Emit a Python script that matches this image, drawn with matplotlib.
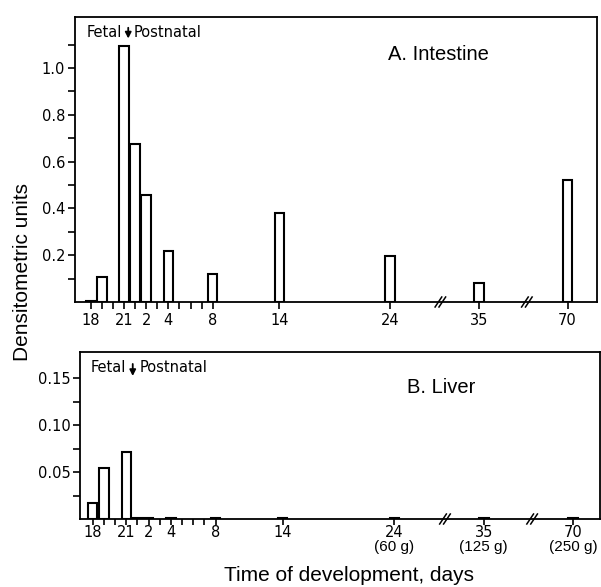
import matplotlib
matplotlib.use("Agg")
import matplotlib.pyplot as plt
import matplotlib.transforms as mtransforms
from matplotlib.ticker import FixedLocator

# day positions on a linear scale: fetal 18..21 -> -3..0, postnatal days 1..24 as is,
# 35 and 70 sit after axis breaks
tick_pos = [-3, -2, -1, 0, 1, 2, 3, 4, 5, 6, 7, 8, 14, 24, 32, 40]
tick_lab = ["18", "", "", "21", "", "2", "", "4", "", "", "", "8", "14", "24", "35", "70"]
gram_pos = [24, 32, 40]
gram_lab = ["(60 g)", "(125 g)", "(250 g)"]
break_pos = [28.5, 36.3]

intestine_x = [-3, -2, 0, 1, 2, 4, 8, 14, 24, 32, 40]
intestine_y = [0.005, 0.105, 1.095, 0.675, 0.457, 0.218, 0.12, 0.382, 0.198, 0.082, 0.521]

liver_x = [-3, -2, 0, 1, 2, 4, 8, 14, 24, 32, 40]
liver_y = [0.0167, 0.0546, 0.0716, 0.0008, 0.0008, 0.001, 0.001, 0.001, 0.001, 0.001, 0.001]

tickfont = "DejaVu Sans"
labfont = "Liberation Sans"

W, H = 601, 587
fig = plt.figure(figsize=(W / 100, H / 100), dpi=100)

def px_axes(l, t, r, b):
    return fig.add_axes([l / W, 1 - b / H, (r - l) / W, (b - t) / H])

ax1 = px_axes(75, 17, 597, 302)
ax2 = px_axes(80, 352, 600, 519)


def style(ax, xlim, ylim, ymaj, ymajlab, ymin, xpad):
    ax.set_xlim(*xlim)
    ax.set_ylim(*ylim)
    for s in ax.spines.values():
        s.set_linewidth(1.3)
    ax.set_xticks(tick_pos)
    ax.set_xticklabels(tick_lab, fontfamily=tickfont, fontsize=10.5)
    ax.set_yticks(ymaj)
    ax.set_yticklabels(ymajlab, fontfamily=tickfont, fontsize=10.5)
    ax.yaxis.set_minor_locator(FixedLocator(ymin))
    ax.tick_params(axis="both", which="both", direction="out", length=5, width=1.2)
    ax.tick_params(axis="x", pad=xpad)
    ax.tick_params(axis="y", pad=2)
    tr = mtransforms.blended_transform_factory(ax.transData, ax.transAxes)
    hb = ax.bbox.height
    dy = 5 / hb
    for bx in break_pos:
        for off in (-0.15, 0.2):
            ax.plot([bx + off - 0.3, bx + off + 0.3], [-dy, dy], color="black",
                    lw=1.1, transform=tr, clip_on=False)
    return tr


tr1 = style(ax1, (-4.42, 42.65), (0, 1.218),
            [0.2, 0.4, 0.6, 0.8, 1.0], ["0.2", "0.4", "0.6", "0.8", "1.0"],
            [0.1, 0.3, 0.5, 0.7, 0.9, 1.1], 3)
tr2 = style(ax2, (-4.14, 42.4), (0, 0.1777),
            [0.05, 0.10, 0.15], ["0.05", "0.10", "0.15"],
            [0.025, 0.075, 0.125], 0.5)
ax2.tick_params(axis="x", length=4)

ax1.bar(intestine_x, intestine_y, width=0.85, color="white", edgecolor="black", linewidth=1.5)
ax2.bar(liver_x, liver_y, width=0.85, color="white", edgecolor="black", linewidth=1.5)

# Fetal / Postnatal markers
def birth(ax, tr, xa, ytxt, ytop, ybot, xl, xr):
    ax.annotate("", xy=(xa, ybot), xytext=(xa, ytop), xycoords=tr, textcoords=tr,
                arrowprops=dict(arrowstyle="-|>,head_width=0.18,head_length=0.35",
                                color="black", lw=1.3))
    ax.text(xl, ytxt, "Fetal", transform=tr, ha="right", va="center",
            fontfamily=tickfont, fontsize=10.5)
    ax.text(xr, ytxt, "Postnatal", transform=tr, ha="left", va="center",
            fontfamily=tickfont, fontsize=10.5)

birth(ax1, tr1, 0.38, 0.946, 0.972, 0.915, -0.15, 0.85)
birth(ax2, tr2, 0.58, 0.905, 0.945, 0.840, -0.05, 1.2)

ax1.text(0.697, 0.87, "A. Intestine", transform=ax1.transAxes, ha="center", va="center",
         fontfamily=labfont, fontsize=14.5)
ax2.text(0.695, 0.785, "B. Liver", transform=ax2.transAxes, ha="center", va="center",
         fontfamily=labfont, fontsize=14.5)

for gx, gl in zip(gram_pos, gram_lab):
    ax2.text(gx, -0.165, gl, transform=tr2, ha="center", va="center",
             fontfamily=labfont, fontsize=11, clip_on=False)

fig.text(0.0375, 0.537, "Densitometric units", rotation=90, ha="center", va="center",
         fontfamily=labfont, fontsize=15)
fig.text(0.581, 0.019, "Time of development, days", ha="center", va="center",
         fontfamily=labfont, fontsize=15)

fig.savefig("out.png", dpi=100)
